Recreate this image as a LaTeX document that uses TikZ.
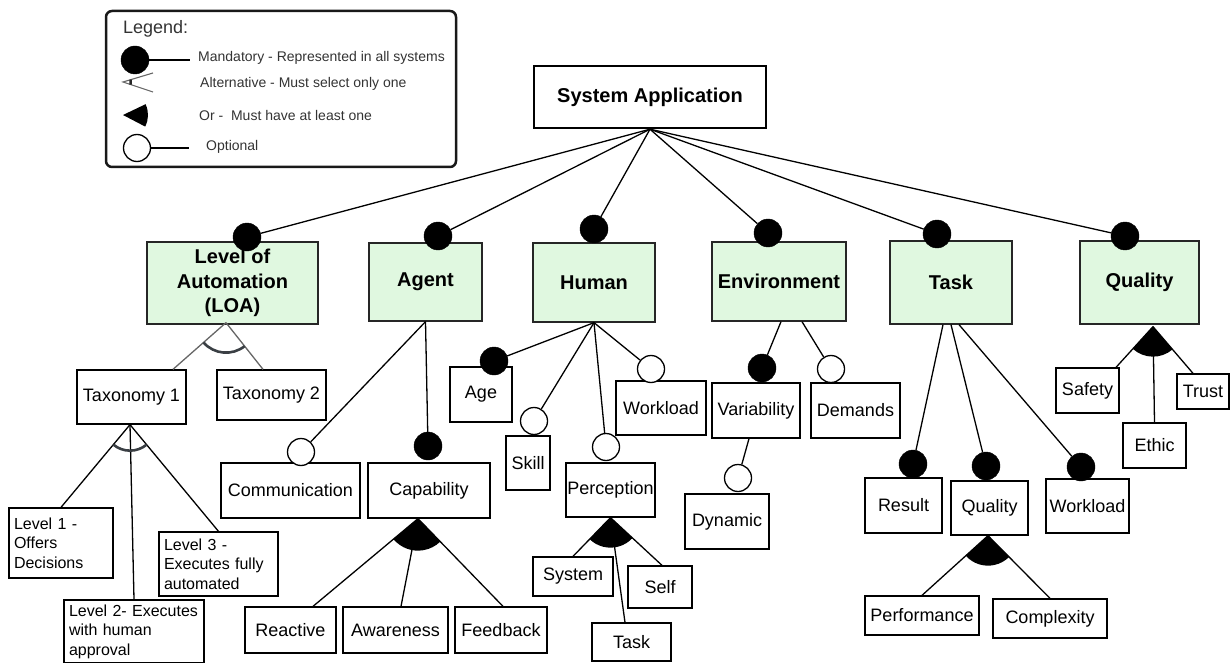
\documentclass[tikz,border=0pt]{standalone}
\usepackage{fontspec}
\setmainfont{Liberation Sans}
\usetikzlibrary{calc}
\definecolor{boxgreen}{HTML}{E0F8E0}
\definecolor{legtext}{HTML}{333333}
\definecolor{arcgray}{HTML}{3A3F44}
\newcommand\orsector[4]{%
  \fill let \p1=($(#2)-(#1)$), \p2=($(#3)-(#1)$), \n1={atan2(\y1,\x1)}, \n2={atan2(\y2,\x2)} in
    (#1) -- ++(\n1:#4pt) arc[start angle=\n1, end angle=\n2, radius=#4pt] -- cycle;}
\newcommand\altarc[5]{%
  \draw[#5] let \p1=($(#2)-(#1)$), \p2=($(#3)-(#1)$), \n1={atan2(\y1,\x1)}, \n2={atan2(\y2,\x2)} in
    (#1) ++(\n1:#4pt) arc[start angle=\n1, end angle=\n2, radius=#4pt];}
\begin{document}
\begin{tikzpicture}[x=1pt,y=-1pt,
  sz/.style 2 args={minimum width=#1pt, minimum height=#2pt},
  box/.style={draw=black, line width=1.3pt, fill=white, inner sep=1pt, align=center,
    font=\fontsize{18}{21}\selectfont},
  topbox/.style={box, fill=boxgreen, draw=black!85, font=\bfseries\fontsize{20}{24.5}\selectfont},
  sysbox/.style={box, line width=2.4pt, font=\bfseries\fontsize{20}{24}\selectfont},
  lvl/.style={box, align=left, inner xsep=5pt, font=\fontsize{16}{19.5}\selectfont},
  conn/.style={line width=1.3pt, draw=black},
  mand/.style={circle, fill=black, draw=black, minimum size=28pt, inner sep=0pt},
  opt/.style={circle, fill=white, draw=black, line width=1.3pt, minimum size=27pt, inner sep=0pt},
  legtxt/.style={anchor=west, inner sep=0pt, text=legtext, font=\fontsize{14}{16}\selectfont},
  altline/.style={line width=1.3pt, draw=black!60},
  altarcst/.style={line width=2.6pt, draw=arcgray},
]
\useasboundingbox (0,0) rectangle (1231,663);

% ---------- legend ----------
\node[draw=black!90, line width=2.5pt, rounded corners=6pt, sz={350}{156}] (legend) at (281,89) {};
\node[anchor=west, inner sep=0pt, text=legtext, font=\fontsize{18}{20}\selectfont] (legtitle) at (123,29) {Legend:};
\node[mand] (lm) at (135,60) {};
\coordinate (lm-end) at (190,60);
\draw[conn] (lm) -- (lm-end);
\node[legtxt] (lmt) at (198,58) {Mandatory - Represented in all systems};
\coordinate (la) at (123,82);
\coordinate (la-u) at (153,73);
\coordinate (la-d) at (153,92);
\draw[line width=1.1pt, draw=black!60] (la-u) -- (la) -- (la-d);
\altarc{la}{la-u}{la-d}{8}{line width=2.6pt, draw=black!85}
\node[legtxt] (lat) at (200,84) {Alternative - Must select only one};
\coordinate (lo) at (123,115);
\coordinate (lo-u) at (146,104);
\coordinate (lo-d) at (146,127);
\orsector{lo}{lo-u}{lo-d}{25}
\node[legtxt] (lot) at (199,115) {Or -\ \ Must have at least one};
\node[opt] (lp) at (137,148) {};
\coordinate (lp-end) at (189,148);
\draw[conn] (lp) -- (lp-end);
\node[legtxt] (lpt) at (206,147) {Optional};

% ---------- root ----------
\node[sysbox, sz={232}{62}] (sys) at (650,97) {System Application};

% ---------- top-level features ----------
\node[topbox, sz={171}{82}] (loa) at (232.5,283) {Level of\\Automation\\(LOA)};
\node[topbox, sz={113}{78}] (agent) at (425.5,282) {Agent};
\node[topbox, sz={122}{79}] (human) at (594,282.5) {Human};
\node[topbox, sz={134}{79}] (env) at (779,281.5) {Environment};
\node[topbox, sz={122}{83}] (task) at (951,282.5) {Task};
\node[topbox, sz={119}{83}] (quality) at (1139.5,282.5) {Quality};

% ---------- LOA subtree ----------
\node[box, sz={109}{54}] (tax1) at (131.5,397) {Taxonomy 1};
\node[box, sz={109}{50}] (tax2) at (271.5,395) {Taxonomy 2};
\node[lvl, text width=94pt, sz={104}{70}] (lvl1) at (61,543) {Level 1 -\\Offers\\Decisions};
\node[lvl, text width=130pt, sz={140}{63}] (lvl2) at (134,631.5) {\mbox{Level 2- Executes}\\with human\\approval};
\node[lvl, text width=109pt, sz={119}{64}] (lvl3) at (218.5,564) {Level 3 -\\\mbox{Executes fully}\\automated};

% ---------- Agent subtree ----------
\node[box, sz={139}{55}] (comm) at (290.5,490.5) {Communication};
\node[box, sz={122}{55}] (cap) at (429,490.5) {Capability};
\node[box, sz={91}{46}] (reactive) at (290.5,630) {Reactive};
\node[box, sz={105}{46}] (aware) at (395.5,630) {Awareness};
\node[box, sz={92}{46}] (feedback) at (501,630) {Feedback};

% ---------- Human subtree ----------
\node[box, sz={62}{55}] (age) at (481,394.5) {Age};
\node[box, sz={44}{54}] (skill) at (528,463) {Skill};
\node[box, sz={90}{54}] (hwork) at (661,408) {Workload};
\node[box, sz={89}{54}] (perc) at (610.5,490) {Perception};
\node[box, sz={80}{39}] (psys) at (573,576.5) {System};
\node[box, sz={64}{42}] (pself) at (660,587) {Self};
\node[box, sz={79}{38}] (ptask) at (631.5,642) {Task};

% ---------- Environment subtree ----------
\node[box, sz={88}{55}] (var) at (756,410.5) {Variability};
\node[box, sz={89}{55}] (dem) at (855.5,410.5) {Demands};
\node[box, sz={84}{55}] (dyn) at (727,521.5) {Dynamic};

% ---------- Task subtree ----------
\node[box, sz={77}{55}] (result) at (903.5,505.5) {Result};
\node[box, sz={77}{54}] (tqual) at (989.5,508) {Quality};
\node[box, sz={83}{54}] (twork) at (1087.5,506) {Workload};
\node[box, sz={114}{39}] (perf) at (922,615.5) {Performance};
\node[box, sz={114}{39}] (cplx) at (1050,618.5) {Complexity};

% ---------- Quality subtree ----------
\node[box, sz={63}{45}] (safety) at (1087.5,390.5) {Safety};
\node[box, sz={63}{45}] (ethic) at (1154.5,445.5) {Ethic};
\node[box, sz={52}{35}] (trust) at (1203,391.5) {Trust};

% ---------- circles ----------
\node[mand] (m-loa) at (247,237) {};
\node[mand] (m-agent) at (438,236) {};
\node[mand] (m-human) at (594,229) {};
\node[mand] (m-env) at (768,233) {};
\node[mand] (m-task) at (937,234) {};
\node[mand] (m-quality) at (1125,236) {};
\node[opt] (o-comm) at (301,452) {};
\node[mand] (m-cap) at (428,446) {};
\node[mand] (m-age) at (494,361) {};
\node[opt] (o-skill) at (534,421) {};
\node[opt] (o-work) at (651,369) {};
\node[opt] (o-perc) at (606,447) {};
\node[mand] (m-var) at (762,368) {};
\node[opt] (o-dem) at (831,369) {};
\node[opt] (o-dyn) at (738,478) {};
\node[mand] (m-result) at (913,464) {};
\node[mand] (m-tq) at (986,466) {};
\node[mand] (m-tw) at (1081,467) {};

% ---------- root connectors ----------
\foreach \c in {m-loa,m-agent,m-human,m-env,m-task,m-quality}
  \draw[conn] (sys.south) -- (\c);

% ---------- mandatory / optional connectors ----------
\draw[conn] (agent.south) -- (o-comm);
\draw[conn] (agent.south) -- (m-cap);
\draw[conn] (human.south) -- (m-age);
\draw[conn] (human.south) -- (o-skill);
\draw[conn] (human.south) -- (o-perc);
\draw[conn] (human.south) -- (o-work);
\draw[conn] ([xshift=2pt]env.south) -- (m-var);
\draw[conn] ([xshift=23pt]env.south) -- (o-dem);
\draw[conn] ([xshift=-7pt]var.south) -- (o-dyn);
\draw[conn] ([xshift=-8pt]task.south) -- (m-result);
\draw[conn] (task.south) -- (m-tq);
\draw[conn] ([xshift=8pt]task.south) -- (m-tw);

% ---------- alternative groups ----------
\coordinate (a-loa) at ([xshift=-6.5pt, yshift=2pt]loa.south);
\coordinate (a-loa-l) at ([xshift=41.5pt]tax1.north);
\coordinate (a-loa-r) at ([xshift=-8.5pt]tax2.north);
\draw[altline] (a-loa) -- (a-loa-l);
\draw[altline] (a-loa) -- (a-loa-r);
\altarc{a-loa}{a-loa-l}{a-loa-r}{30}{altarcst}

\coordinate (a-tax) at ([xshift=-1.5pt]tax1.south);
\draw[conn] (a-tax) -- (lvl1.north);
\draw[conn] (a-tax) -- (lvl2.north);
\draw[conn] (a-tax) -- (lvl3.north);
\altarc{a-tax}{lvl1.north}{lvl3.north}{26}{altarcst}

% ---------- or groups ----------
\coordinate (or-cap) at ([xshift=-11pt]cap.south);
\coordinate (or-cap-l) at ([xshift=22.5pt]reactive.north);
\coordinate (or-cap-m) at ([xshift=5.5pt]aware.north);
\coordinate (or-cap-r) at ([xshift=2pt]feedback.north);
\draw[conn] (or-cap) -- (or-cap-l);
\draw[conn] (or-cap) -- (or-cap-m);
\draw[conn] (or-cap) -- (or-cap-r);
\orsector{or-cap}{or-cap-l}{or-cap-r}{32}

\coordinate (or-perc) at (perc.south);
\coordinate (or-perc-m) at ([xshift=-6.5pt]ptask.north);
\coordinate (or-perc-r) at ([xshift=2pt]pself.north);
\draw[conn] (or-perc) -- (psys.north);
\draw[conn] (or-perc) -- (or-perc-m);
\draw[conn] (or-perc) -- (or-perc-r);
\orsector{or-perc}{psys.north}{or-perc-r}{30}

\coordinate (or-tq) at ([xshift=-1.5pt]tqual.south);
\draw[conn] (or-tq) -- (perf.north);
\draw[conn] (or-tq) -- (cplx.north);
\orsector{or-tq}{perf.north}{cplx.north}{30}

\coordinate (or-q) at ([xshift=13.5pt, yshift=-2pt]quality.south);
\coordinate (or-q-l) at ([xshift=28.5pt]safety.north);
\coordinate (or-q-r) at ([xshift=-10pt]trust.north);
\draw[conn] (or-q) -- (or-q-l);
\draw[conn] (or-q) -- (ethic.north);
\draw[conn] (or-q) -- (or-q-r);
\orsector{or-q}{or-q-l}{or-q-r}{30}
\end{tikzpicture}
\end{document}
